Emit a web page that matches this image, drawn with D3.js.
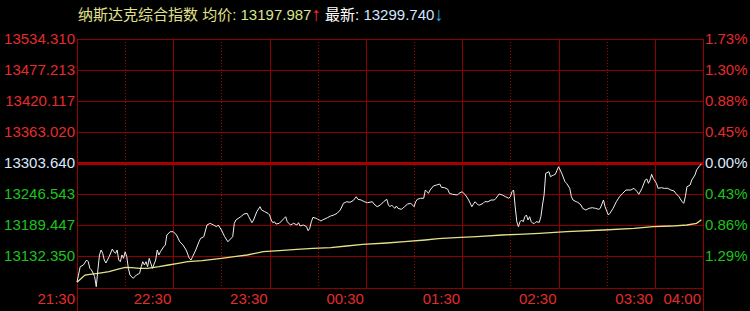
<!DOCTYPE html>
<html>
<head>
<meta charset="utf-8">
<script src="https://cdn.jsdelivr.net/npm/d3@7"></script>
<style>
  html, body { margin: 0; padding: 0; background: #000; }
  svg { display: block; }
  text { font-family: "Liberation Sans", Arial, "Noto Sans CJK SC", sans-serif; font-size: 15px; }
</style>
</head>
<body>
<svg id="chart" width="750" height="311"></svg>
<script>
// axis labels as shown on the chart
const prevClose = 13303.640;
const priceStep = 57.6675;
const priceLabels = ["13534.310","13477.213","13420.117","13363.020","13303.640","13246.543","13189.447","13132.350"];
const pctLabels   = ["1.73%","1.30%","0.88%","0.45%","0.00%","0.43%","0.86%","1.29%"];
const timeLabels  = ["21:30","22:30","23:30","00:30","01:30","02:30","03:30","04:00"];
const timeMinutes = [0,60,120,180,240,300,360,390];
const halfHours   = [30,90,150,210,270,330];

// minute after 21:30, index value
const price = [
  [0,13082.3],[2,13110.7],[4,13113.9],[6,13123.2],[7,13120.0],[8,13107.7],[9,13104.6],[10,13099.0],
  [11,13092.1],[12,13073.5],[13,13104.6],[14,13132.5],[15,13141.8],[16,13135.6],[17,13123.2],[18,13117.6],
  [20,13129.3],[22,13143.6],[23,13138.6],[24,13135.6],[25,13141.8],[26,13123.2],[27,13120.0],[28,13132.5],
  [29,13126.3],[30,13138.6],[31,13129.3],[32,13107.7],[33,13095.3],[35,13089.1],[37,13095.3],[39,13098.4],
  [40,13110.7],[41,13120.0],[42,13113.9],[43,13120.0],[44,13110.7],[45,13126.3],[47,13107.7],[49,13123.2],
  [50,13141.8],[51,13132.5],[52,13138.6],[54,13147.9],[55,13151.1],[56,13169.7],[58,13175.8],[60,13175.8],
  [62,13169.7],[64,13157.2],[66,13151.1],[68,13141.8],[70,13126.3],[71,13123.2],[72,13129.3],[74,13141.8],
  [76,13157.2],[77,13163.5],[79,13166.5],[81,13188.3],[83,13191.4],[85,13188.3],[87,13185.1],[88,13188.3],
  [90,13179.0],[92,13166.5],[94,13157.2],[95,13160.4],[97,13166.5],[98,13191.4],[99,13197.6],[102,13203.7],
  [104,13208.7],[106,13210.0],[107,13203.7],[109,13192.6],[110,13197.6],[112,13213.0],[114,13222.3],[115,13216.2],
  [117,13213.0],[119,13210.0],[120,13206.9],[121,13197.6],[122,13192.6],[123,13194.4],[124,13190.1],[126,13191.4],
  [128,13197.6],[129,13200.7],[130,13203.7],[131,13194.4],[133,13188.3],[135,13191.4],[137,13188.3],[138,13192.6],
  [139,13186.4],[141,13188.3],[143,13185.1],[144,13177.7],[145,13182.1],[146,13194.4],[147,13202.6],[149,13200.7],
  [150,13198.9],[151,13197.6],[152,13195.7],[153,13197.6],[156,13201.9],[158,13205.0],[160,13206.9],[162,13210.0],
  [164,13216.2],[166,13228.6],[168,13231.6],[170,13230.5],[172,13233.5],[174,13240.9],[175,13236.1],[177,13234.8],
  [179,13231.6],[181,13229.8],[184,13231.6],[185,13227.3],[187,13222.3],[189,13225.5],[191,13231.6],[193,13236.1],
  [194,13225.5],[195,13222.3],[196,13225.5],[197,13222.3],[198,13219.3],[199,13223.6],[200,13219.3],[202,13217.5],
  [203,13219.3],[204,13222.3],[206,13227.3],[208,13228.6],[210,13222.3],[211,13231.6],[212,13236.1],[214,13238.0],
  [216,13238.0],[217,13253.4],[218,13250.2],[219,13247.3],[220,13253.4],[222,13260.8],[224,13262.7],[226,13264.5],
  [227,13258.4],[229,13257.7],[231,13254.7],[232,13247.3],[234,13245.4],[237,13244.1],[238,13247.3],[240,13250.2],
  [242,13244.1],[244,13234.8],[246,13222.3],[247,13227.3],[248,13231.6],[250,13225.5],[251,13225.5],[253,13228.6],
  [254,13231.6],[256,13231.6],[258,13234.8],[260,13234.8],[261,13238.0],[263,13246.0],[265,13244.1],[267,13240.9],
  [269,13238.0],[270,13240.9],[271,13250.2],[272,13253.4],[273,13222.3],[274,13194.4],[275,13185.1],[276,13194.4],
  [277,13197.6],[278,13194.4],[279,13203.7],[280,13206.9],[281,13197.6],[282,13203.7],[283,13194.4],[284,13191.4],
  [285,13191.4],[286,13194.4],[288,13193.3],[289,13203.7],[290,13225.5],[291,13244.1],[292,13284.4],[294,13287.4],
  [295,13278.1],[296,13280.0],[297,13281.3],[298,13282.6],[300,13296.7],[302,13284.5],[304,13268.8],[305,13265.8],
  [307,13256.5],[308,13240.9],[309,13234.8],[311,13231.6],[312,13230.5],[314,13225.5],[315,13219.3],[317,13216.2],
  [319,13219.3],[321,13220.5],[323,13219.3],[325,13217.5],[326,13219.3],[328,13234.8],[329,13222.3],[331,13206.9],
  [332,13210.0],[334,13219.3],[336,13231.6],[338,13240.9],[340,13247.3],[342,13253.4],[345,13253.4],[347,13256.5],
  [349,13250.2],[350,13245.4],[352,13256.5],[354,13272.0],[355,13273.9],[356,13265.8],[357,13272.0],[358,13282.6],
  [359,13275.1],[361,13265.8],[362,13256.5],[364,13257.7],[366,13256.5],[368,13256.5],[370,13253.4],[372,13251.5],
  [373,13247.3],[375,13240.9],[377,13231.6],[378,13228.6],[379,13240.9],[380,13259.5],[382,13262.7],[383,13272.0],
  [385,13281.3],[386,13290.6],[388,13299.0],[389,13301.5]
];

// average price line
const avgPrice = [
  [0,13082.0],[5,13095.3],[8,13096.6],[13,13098.4],[20,13101.4],[25,13105.9],[30,13109.6],[34,13108.9],
  [39,13107.7],[44,13107.7],[51,13110.7],[57,13113.9],[63,13117.0],[69,13120.0],[78,13121.9],[90,13126.3],
  [98,13129.3],[106,13132.5],[116,13138.6],[126,13140.5],[137,13143.1],[147,13145.0],[158,13146.1],[168,13149.2],
  [178,13152.4],[193,13154.8],[204,13157.2],[217,13160.4],[225,13162.8],[236,13164.7],[249,13166.5],[265,13169.7],
  [275,13171.0],[288,13172.8],[305,13175.8],[328,13179.0],[347,13182.1],[359,13185.1],[370,13186.4],[380,13188.3],
  [386,13191.4],[389,13197.99]
];

const svg = d3.select("#chart");
const plotLeft = 77, plotRight = 703, plotTop = 39, plotBottom = 287;

let x = d3.scaleLinear().domain([0,390]).range([plotLeft,plotRight]);
let y = d3.scaleLinear()
          .domain([prevClose - 4*priceStep, prevClose + 4*priceStep])
          .range([plotBottom, plotTop]);

let gridVals = d3.range(8).map(i => prevClose + (4 - i)*priceStep);
let crisp = v => Math.round(v) + 0.5;

// horizontal grid
svg.append("g").selectAll("line")
   .data(gridVals)
   .join("line")
   .attr("x1",plotLeft).attr("x2",plotRight)
   .attr("y1",d => crisp(y(d))).attr("y2",d => crisp(y(d)))
   .attr("stroke",(d,i) => i === 4 ? "#a80000" : "#8e0000")
   .attr("stroke-width",(d,i) => i === 4 ? 3 : 1);

// bottom border
svg.append("line")
   .attr("x1",plotLeft).attr("x2",plotRight)
   .attr("y1",crisp(y(gridVals[7] - priceStep)) + 1).attr("y2",crisp(y(gridVals[7] - priceStep)) + 1)
   .attr("stroke","#8e0000");

// hour lines (solid) and half-hour lines (dotted)
svg.append("g").selectAll("line")
   .data(timeMinutes.slice(1,7))
   .join("line")
   .attr("x1",d => crisp(x(d))).attr("x2",d => crisp(x(d)))
   .attr("y1",plotTop).attr("y2",plotBottom + 1)
   .attr("stroke","#8e0000");

svg.append("g").selectAll("line")
   .data(halfHours)
   .join("line")
   .attr("x1",d => crisp(x(d))).attr("x2",d => crisp(x(d)))
   .attr("y1",plotTop).attr("y2",plotBottom + 1)
   .attr("stroke","#a00000")
   .attr("stroke-dasharray","1,2");

// side borders run down past the time axis
svg.append("g").selectAll("line")
   .data([0,390])
   .join("line")
   .attr("x1",d => crisp(x(d))).attr("x2",d => crisp(x(d)))
   .attr("y1",plotTop).attr("y2",311)
   .attr("stroke","#9a0000");

// left price labels
svg.append("g").selectAll("text")
   .data(priceLabels)
   .join("text")
   .attr("x",plotLeft - 2)
   .attr("y",(d,i) => y(gridVals[i]))
   .attr("dy","0.35em")
   .attr("text-anchor","end")
   .attr("fill",(d,i) => i < 4 ? "#e42c2c" : i === 4 ? "#dce8ff" : "#1cc41c")
   .text(d => d);

// right percent labels
svg.append("g").selectAll("text")
   .data(pctLabels)
   .join("text")
   .attr("x",plotRight + 2)
   .attr("y",(d,i) => y(gridVals[i]))
   .attr("dy","0.35em")
   .attr("fill",(d,i) => i < 4 ? "#e42c2c" : i === 4 ? "#dce8ff" : "#1cc41c")
   .text(d => d);

// time labels
svg.append("g").selectAll("text")
   .data(timeLabels)
   .join("text")
   .attr("x",(d,i) => x(timeMinutes[i]) - 2)
   .attr("y",303.5)
   .attr("text-anchor","end")
   .attr("fill","#e42c2c")
   .text(d => d);

let lineFn = d3.line()
               .x(d => x(d[0]))
               .y(d => y(d[1]));

svg.append("path")
   .attr("d",lineFn(avgPrice))
   .attr("fill","none")
   .attr("stroke","#e2e284")
   .attr("stroke-width",1.3);

svg.append("path")
   .attr("d",lineFn(price))
   .attr("fill","none")
   .attr("stroke","#eeeeee")
   .attr("stroke-width",1);

// title
let title = svg.append("text").attr("x",78).attr("y",19.5);
title.append("tspan").attr("fill","#e0e08c").text("纳斯达克综合指数 均价: ");
title.append("tspan").attr("fill","#d8e48c").text("13197.987");
title.append("tspan").attr("fill","#ff2a2a").style("font-size","19px").attr("dy",1.5).text("↑");
title.append("tspan").attr("fill","#ffffff").attr("dy",-1.5).text(" 最新: ");
title.append("tspan").attr("fill","#d4e4ff").text("13299.740");
title.append("tspan").attr("fill","#1ab0ea").style("font-size","19px").attr("dy",1.5).text("↓");
</script>
</body>
</html>
